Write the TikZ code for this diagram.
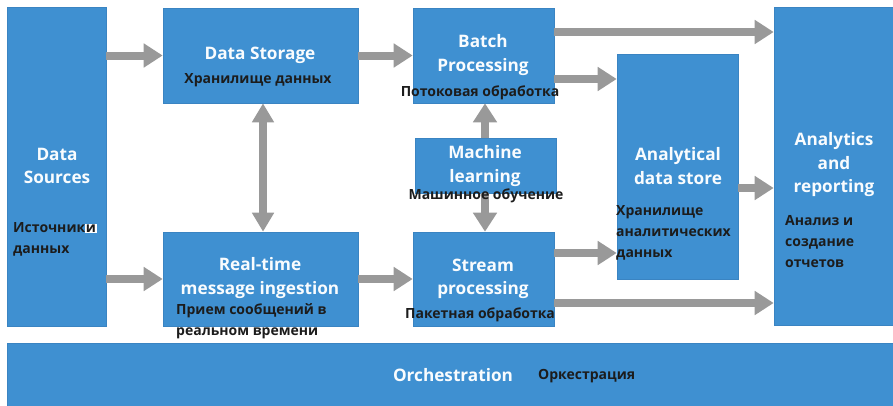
\documentclass[tikz,border=0pt]{standalone}
\usepackage{fontspec}
\setmainfont{Open Sans}
\newfontfamily\enfont{Open Sans}[BoldFont={Open Sans Bold}]
\newfontfamily\rufont{Open Sans}[BoldFont={Open Sans Bold}]
\usetikzlibrary{arrows.meta}
\definecolor{boxblue}{HTML}{3F90D1}
\definecolor{boxedge}{HTML}{3A84C2}
\definecolor{arrgray}{HTML}{999999}
\definecolor{rutext}{HTML}{1C1C1C}
\tikzset{
  blk/.style={fill=boxblue, draw=boxedge, line width=0.6pt, inner sep=0pt},
  entext/.style={text=white!97!boxblue, align=center, font=\enfont\bfseries\fontsize{17.2}{23.5}\selectfont},
  rutext/.style={text=rutext, font=\rufont\bfseries\fontsize{14}{21}\selectfont, inner sep=0pt},
  arr/.style={draw=arrgray, line width=8pt, -{Triangle[length=19pt,width=23pt]}, arrgray},
  darr/.style={draw=arrgray, line width=8pt, {Triangle[length=19pt,width=21pt]}-{Triangle[length=19pt,width=21pt]}, arrgray},
}
\begin{document}
\begin{tikzpicture}[x=1pt,y=-1pt]
\useasboundingbox[fill=white] (0,0) rectangle (893,405);

% processing blocks
\node[blk, minimum width=99pt,  minimum height=319pt] (ds)  at (56.5,166.5) {};
\node[blk, minimum width=195pt, minimum height=95pt]  (dst) at (260.5,55.5) {};
\node[blk, minimum width=195pt, minimum height=94pt]  (rt)  at (260.5,279) {};
\node[blk, minimum width=141pt, minimum height=95pt]  (bp)  at (483.5,55.5) {};
\node[blk, minimum width=141pt, minimum height=55pt]  (ml)  at (485.5,165.5) {};
\node[blk, minimum width=141pt, minimum height=94pt]  (sp)  at (483.5,279) {};
\node[blk, minimum width=121pt, minimum height=225pt] (ads) at (677.5,166.5) {};
\node[blk, minimum width=121pt, minimum height=318pt] (ar)  at (834.5,166) {};
\node[blk, minimum width=889pt, minimum height=64pt]  (orch) at (451.5,375) {};

% connectors
\draw[arr] (ds.east |- dst.west) -- (dst.west);
\draw[arr] (ds.east |- rt.west) -- (rt.west);
\draw[darr] ([xshift=2.5pt]dst.south) -- ([xshift=2.5pt]rt.north);
\draw[arr] (dst.east) -- (bp.west);
\draw[arr] (rt.east) -- (sp.west);
\path ([yshift=23.5pt]bp.east) coordinate (b1)
      ([yshift=-23.5pt]bp.east) coordinate (b2)
      ([yshift=26pt]sp.east) coordinate (s1)
      ([yshift=-24pt]sp.east) coordinate (s2)
      ([yshift=-21.5pt]ads.east) coordinate (a1);
\draw[arr] (b1) -- (b1 -| ar.west);
\draw[arr] (b2) -- (b2 -| ads.west);
\draw[arr] (s1) -- (s1 -| ads.west);
\draw[arr] (s2) -- (s2 -| ar.west);
\draw[arr] (a1) -- (a1 -| ar.west);
\draw[arr] ([xshift=-0.5pt]ml.north) -- ([xshift=-0.5pt]ml.north |- bp.south);
\draw[arr] ([xshift=-0.5pt]ml.south) -- ([xshift=-0.5pt]ml.south |- sp.north);

% English titles
\node[entext] (dsT)  at (57,166)  {Data\\Sources};
\node[entext] (dstT) at (260,55)  {Data Storage};
\node[entext] (bpT)  at (483,55)  {Batch\\Processing};
\node[entext] (mlT)  at (485,166) {Machine\\learning};
\node[entext] (rtT)  at (260,278) {Real-time\\message ingestion};
\node[entext] (spT)  at (483,279) {Stream\\processing};
\node[entext] (adsT) at (678,166) {Analytical\\data store};
\node[entext] (arT)  at (834,165) {Analytics\\and\\reporting};
\node[entext] (orT)  at (453,375) {Orchestration};

% Russian captions
\node[rutext] (dstR) at (258,80)  {Хранилище данных};
\node[rutext] (bpR)  at (480,93)  {Потоковая обработка};
\node[rutext] (mlR)  at (486,196) {Машинное обучение};
\node[rutext] (spR)  at (480,315) {Пакетная обработка};
\node[rutext, anchor=west, align=left] (dsR) at (13,239.5)
  {Источник{\setlength{\fboxsep}{0.6pt}\colorbox{white}{и}}\\данных};
\node[rutext, anchor=west, align=left] (rtR)  at (176,321) {Прием сообщений в\\реальном времени};
\node[rutext, anchor=west, align=left] (adsR) at (616,233) {Хранилище\\аналитических\\данных};
\node[rutext, anchor=west, align=left] (arR)  at (785,242) {Анализ и\\создание\\отчетов};
\node[rutext, anchor=west] (orR) at (538,376) {Оркестрация};
\end{tikzpicture}
\end{document}
